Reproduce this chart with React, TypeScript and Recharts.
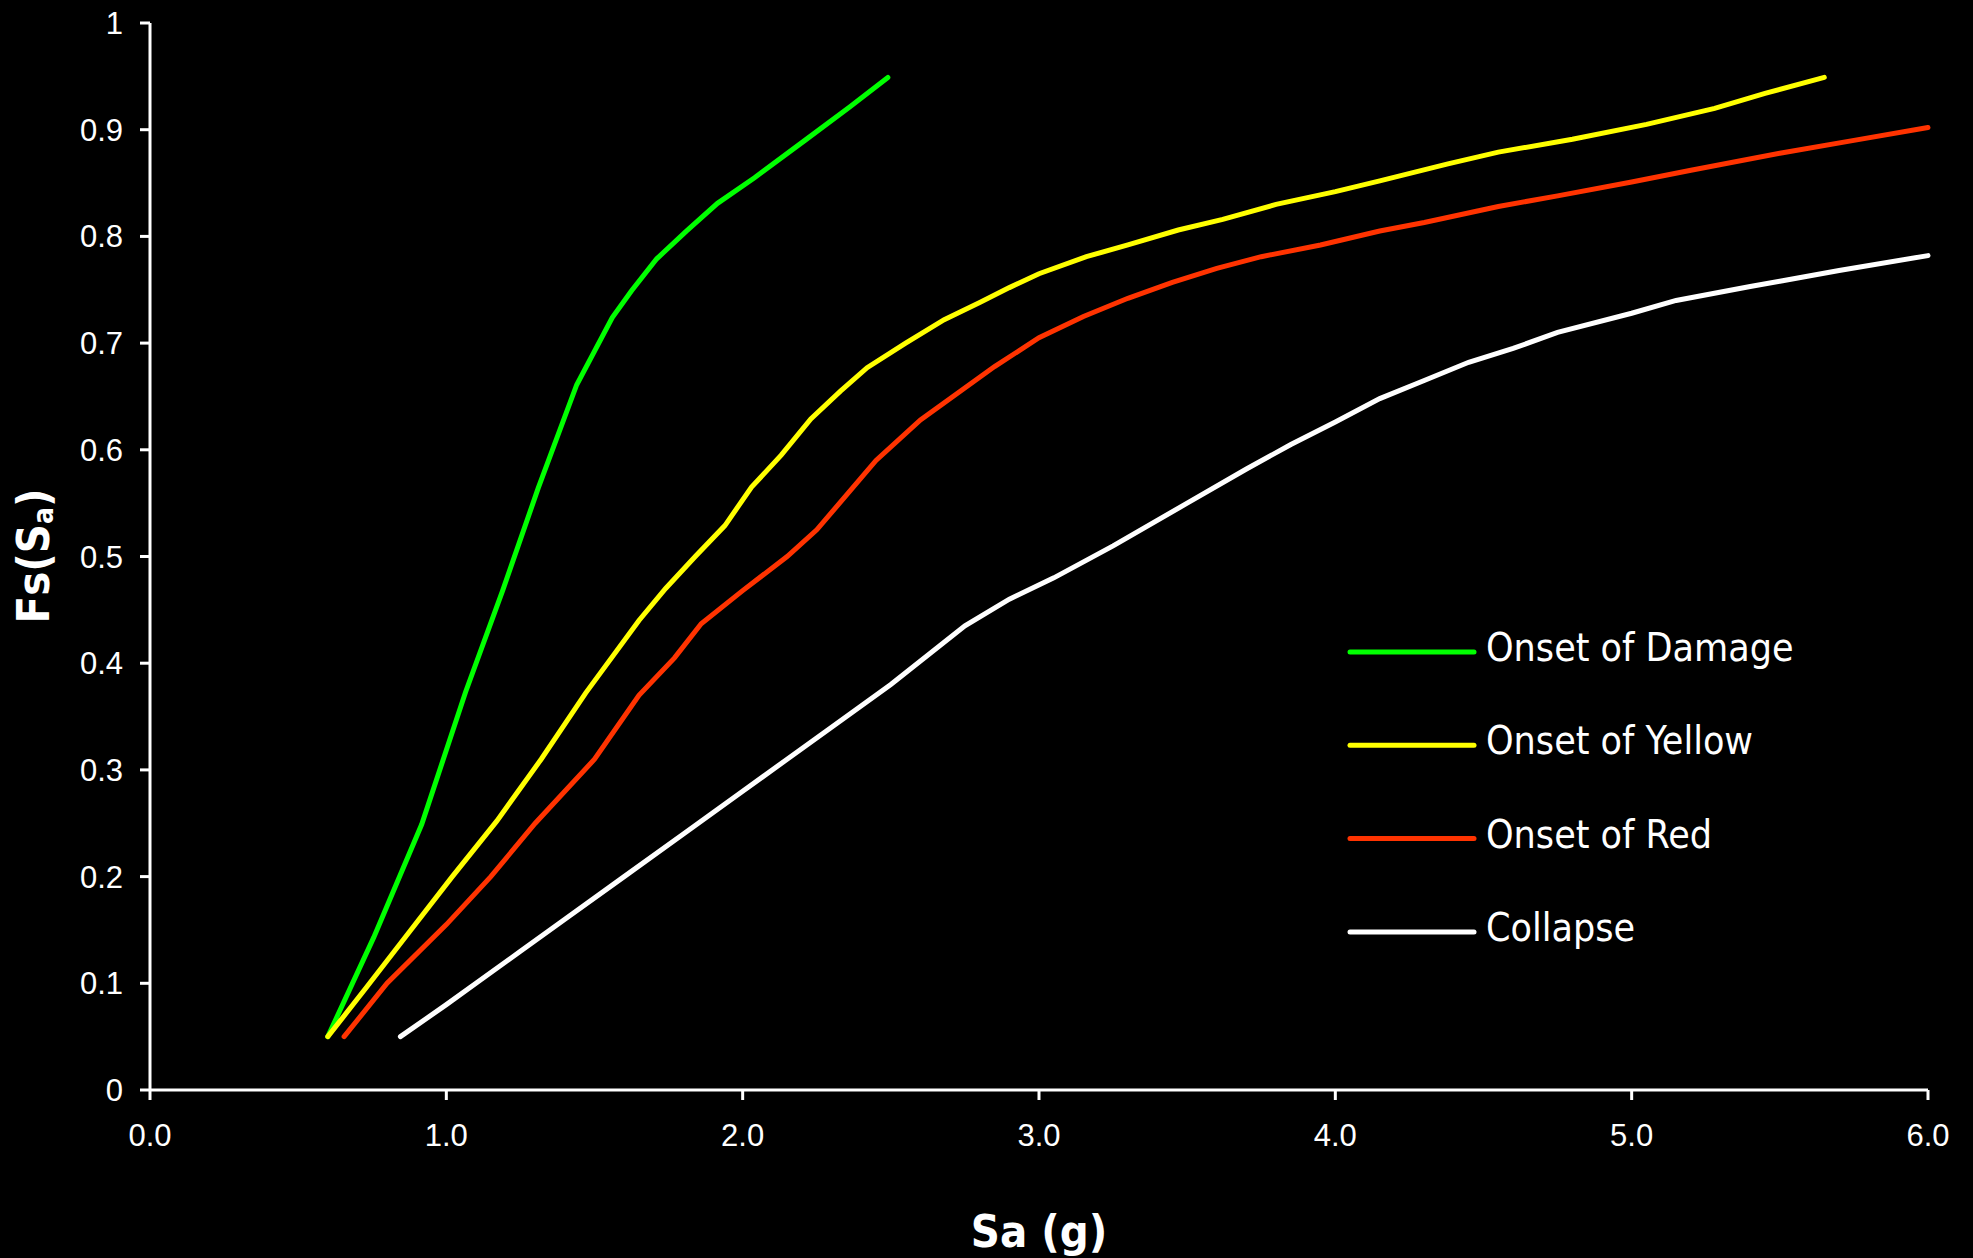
import React from 'react';
import { LineChart, Line, XAxis, YAxis } from 'recharts';

const damage = [
  [0.6, 0.05], [0.755, 0.143], [0.917, 0.249], [1.065, 0.373], [1.19, 0.468],
  [1.31, 0.564], [1.44, 0.661], [1.56, 0.724], [1.625, 0.749], [1.71, 0.779],
  [1.81, 0.805], [1.915, 0.831], [2.04, 0.855], [2.21, 0.89], [2.36, 0.921], [2.49, 0.949],
];

const yellow = [
  [0.6, 0.05], [0.73, 0.096], [0.875, 0.148], [1.02, 0.2], [1.17, 0.252], [1.32, 0.31],
  [1.47, 0.372], [1.65, 0.44], [1.74, 0.47], [1.84, 0.5], [1.94, 0.529], [2.03, 0.565],
  [2.13, 0.595], [2.23, 0.629], [2.33, 0.655], [2.42, 0.677], [2.55, 0.7], [2.68, 0.722],
  [2.8, 0.738], [2.9, 0.752], [3.0, 0.765], [3.16, 0.781], [3.3, 0.792], [3.47, 0.806],
  [3.62, 0.816], [3.8, 0.83], [4.0, 0.842], [4.15, 0.852], [4.38, 0.868], [4.55, 0.879],
  [4.8, 0.891], [5.05, 0.905], [5.28, 0.92], [5.45, 0.934], [5.65, 0.949],
];

const red = [
  [0.655, 0.05], [0.8, 0.1], [1.0, 0.155], [1.15, 0.2], [1.3, 0.25], [1.5, 0.31],
  [1.65, 0.37], [1.77, 0.405], [1.86, 0.437], [2.0, 0.468], [2.15, 0.5], [2.25, 0.525],
  [2.45, 0.59], [2.6, 0.628], [2.85, 0.678], [3.0, 0.705], [3.15, 0.725], [3.3, 0.742],
  [3.45, 0.757], [3.6, 0.77], [3.75, 0.781], [3.95, 0.792], [4.15, 0.805], [4.3, 0.813],
  [4.55, 0.828], [4.75, 0.838], [5.0, 0.851], [5.2, 0.862], [5.5, 0.878], [5.75, 0.89], [6.0, 0.902],
];

const collapse = [
  [0.845, 0.05], [1.0, 0.08], [1.1, 0.1], [1.25, 0.13], [1.4, 0.16], [1.6, 0.2], [1.8, 0.24],
  [2.0, 0.28], [2.15, 0.31], [2.3, 0.34], [2.5, 0.38], [2.75, 0.435], [2.9, 0.46], [3.05, 0.48],
  [3.25, 0.51], [3.5, 0.55], [3.7, 0.582], [3.85, 0.605], [4.0, 0.626], [4.15, 0.648], [4.3, 0.665],
  [4.45, 0.682], [4.6, 0.695], [4.75, 0.71], [5.0, 0.728], [5.15, 0.74], [5.4, 0.753],
  [5.5, 0.758], [5.7, 0.768], [6.0, 0.782],
];

const seriesNames = ['Onset of Damage', 'Onset of Yellow', 'Onset of Red', 'Collapse'];
const seriesColors = ['#00ff00', '#ffff00', '#ff3300', '#ffffff'];
const seriesData = [damage, yellow, red, collapse];

const xTicks = [0, 1, 2, 3, 4, 5, 6];
const yTicks = [0, 0.1, 0.2, 0.3, 0.4, 0.5, 0.6, 0.7, 0.8, 0.9, 1];

const toPoints = (arr: number[][]) => arr.map(([x, y]) => ({ x, y }));

const narrow = '"DejaVu Sans Condensed", "DejaVu Sans", sans-serif';
const tickFont = '"Liberation Sans", Arial, sans-serif';

const LegendBox = () => (
  <svg width={620} height={380} style={{ position: 'absolute', left: 1340, top: 600 }}>
    {seriesNames.map((name, i) => {
      const cy = 52 + i * 93.3;
      return (
        <g key={name}>
          <line x1={10} x2={134} y1={cy} y2={cy} stroke={seriesColors[i]} strokeWidth={5} strokeLinecap="round" />
          <text x={146} y={cy + 9} fill="#fff" fontSize={39} fontFamily={narrow}>
            {name}
          </text>
        </g>
      );
    })}
  </svg>
);

const App = () => {
  return (
    <div style={{ position: 'absolute', left: 0, top: 0, width: 1973, height: 1258, background: '#000' }}>
      <LineChart width={1973} height={1258} margin={{ top: 23, right: 45, left: 0, bottom: 0 }}>
        <XAxis
          type="number"
          dataKey="x"
          domain={[0, 6]}
          ticks={xTicks}
          tickFormatter={(v: number) => v.toFixed(1)}
          height={168}
          tickSize={10}
          tickMargin={24}
          axisLine={{ stroke: '#fff', strokeWidth: 3 }}
          tickLine={{ stroke: '#fff', strokeWidth: 3 }}
          tick={{ fill: '#fff', fontSize: 31, fontFamily: tickFont }}
          allowDuplicatedCategory={false}
          label={{
            content: () => (
              <text x={1039} y={1247} textAnchor="middle" fill="#fff" fontSize={45} fontWeight="bold" fontFamily={narrow}>
                Sa (g)
              </text>
            ),
          }}
        />
        <YAxis
          type="number"
          dataKey="y"
          domain={[0, 1]}
          ticks={yTicks}
          tickFormatter={(v: number) => (v === 0 || v === 1 ? String(v) : v.toFixed(1))}
          width={150}
          tickSize={10}
          tickMargin={17}
          axisLine={{ stroke: '#fff', strokeWidth: 3 }}
          tickLine={{ stroke: '#fff', strokeWidth: 3 }}
          tick={{ fill: '#fff', fontSize: 31, fontFamily: tickFont }}
          label={{
            content: () => (
              <text
                x={49}
                y={556}
                transform="rotate(-90 49 556)"
                textAnchor="middle"
                fill="#fff"
                fontSize={45}
                fontWeight="bold"
                fontFamily={narrow}
              >
                Fs(S
                <tspan fontSize={28} dy={4}>a</tspan>
                <tspan dy={-4}>)</tspan>
              </text>
            ),
          }}
        />
        {seriesData.map((d, i) => (
          <Line
            key={seriesNames[i]}
            data={toPoints(d)}
            dataKey="y"
            name={seriesNames[i]}
            type="linear"
            stroke={seriesColors[i]}
            strokeWidth={5}
            strokeLinecap="round"
            dot={false}
            isAnimationActive={false}
          />
        ))}
      </LineChart>
      <LegendBox />
    </div>
  );
};

export default App;
